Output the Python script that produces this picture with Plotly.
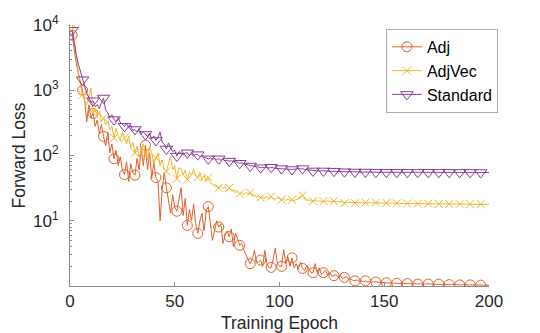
import plotly.graph_objects as go

# epochs 1..200
epochs = list(range(1, 201))

adj = [
    7000, 4000, 2600, 1800, 1300, 1000, 700, 330, 600, 380,
    440, 280, 350, 220, 300, 196, 140, 230, 110, 150,
    89, 120, 70, 95, 60, 51, 80, 40, 75, 55,
    50, 90, 60, 130, 70, 144, 60, 110, 45, 80,
    46, 40, 10, 30, 55, 32, 20, 13, 25, 16,
    14, 20, 32, 12, 22, 8.5, 15, 10, 18, 9,
    6.4, 10, 13, 7, 14, 16.5, 9, 5, 7, 10,
    8, 9, 4.5, 6, 7, 5.7, 7.5, 4, 6.5, 5,
    4.2, 4.5, 3.5, 3, 2.5, 2.2, 2.6, 3.5, 2.4, 2.3,
    2.5, 2.0, 3.5, 2.2, 1.9, 1.93, 2.6, 3.8, 2.2, 2.0,
    2.0, 3.6, 2.2, 2.8, 2.0, 2.7, 1.9, 2.2, 1.8, 2.3,
    1.86, 1.7, 2.1, 1.8, 1.6, 1.6, 2.2, 1.6, 1.9, 1.5,
    1.6, 1.75, 1.45, 1.6, 1.4, 1.44, 1.5, 1.35, 1.45, 1.3,
    1.35, 1.4, 1.25, 1.3, 1.22, 1.2, 1.25, 1.18, 1.2, 1.16,
    1.2, 1.15, 1.17, 1.14, 1.16, 1.15, 1.13, 1.14, 1.12, 1.13,
    1.12, 1.11, 1.12, 1.10, 1.11, 1.10, 1.11, 1.09, 1.10, 1.09,
    1.09, 1.08, 1.09, 1.08, 1.08, 1.07, 1.08, 1.07, 1.07, 1.08,
    1.07, 1.06, 1.07, 1.06, 1.06, 1.07, 1.06, 1.06, 1.05, 1.06,
    1.05, 1.06, 1.05, 1.05, 1.05, 1.04, 1.05, 1.04, 1.05, 1.04,
    1.04, 1.04, 1.04, 1.03, 1.04, 1.03, 1.04, 1.03, 1.03, 1.03,
]

adjvec = [
    10500, 5500, 3000, 1900, 1200, 850, 700, 600, 800, 1080,
    450, 520, 400, 480, 330, 375, 300, 340, 250, 280,
    186, 260, 200, 170, 230, 186, 150, 200, 130, 160,
    110, 140, 95, 120, 150, 105, 85, 130, 110, 75,
    92, 110, 70, 85, 60, 57, 75, 98, 60, 70,
    44, 65, 62, 50, 60, 43, 55, 50, 62, 48,
    46, 55, 42, 50, 40, 46, 38, 36, 34, 33,
    32, 35, 31, 33, 30, 32, 29, 30, 27, 28,
    26, 27, 25, 27, 26, 27, 24, 25, 23, 24,
    22.6, 23, 22, 23.5, 22, 23.5, 22, 21.5, 22.5, 21.5,
    21, 22, 20.5, 21.5, 20.5, 21, 20.5, 21, 22, 23,
    24.5, 21.5, 20.5, 21, 20, 20, 20.5, 19.8, 20.2, 19.8,
    20, 19.7, 20.1, 19.6, 19.9, 20, 19.5, 19.7, 19.3, 19.5,
    18.6, 19.2, 19, 19.3, 18.9, 18.7, 19.1, 18.8, 19, 18.8,
    19, 18.8, 19, 18.9, 18.7, 19, 18.8, 18.7, 18.8, 18.6,
    18.7, 18.6, 18.7, 18.5, 18.6, 18.5, 18.6, 18.4, 18.5, 18.5,
    18.4, 18.5, 18.4, 18.3, 18.4, 18.3, 18.4, 18.3, 18.2, 18.3,
    18.3, 18.2, 18.3, 18.2, 18.2, 18.1, 18.2, 18.1, 18.2, 18.1,
    18.1, 18.0, 18.1, 18.0, 18.1, 18.0, 18.0, 17.9, 18.0, 17.9,
    18.0, 17.9, 17.9, 17.9, 17.8, 17.9, 17.8, 17.8, 17.9, 17.8,
]

standard = [
    8300, 5000, 3500, 2500, 1900, 1450, 1100, 900, 780, 650,
    690, 560, 600, 520, 650, 760, 500, 450, 380, 420,
    355, 330, 380, 320, 300, 280, 310, 270, 290, 240,
    250, 230, 260, 215, 230, 210, 195, 220, 180, 200,
    170, 190, 230, 160, 150, 126, 156, 130, 115, 120,
    98, 115, 108, 102, 110, 110, 100, 106, 98, 104,
    103, 96, 100, 94, 92, 89, 92, 88, 90, 87,
    89, 85, 87, 83, 85, 82, 83, 80, 81, 78,
    76, 77, 74, 73, 72, 69, 70, 68, 68, 66,
    65, 66, 65, 66, 64, 66, 64, 63.5, 63, 63,
    63, 62.5, 62, 62.5, 61.5, 61, 62, 62.5, 63, 62,
    63, 61, 60.5, 60, 59.5, 58, 59, 58.5, 58, 58.5,
    58, 57.5, 58, 57.5, 57, 57.5, 57, 56.5, 57, 56.5,
    56.5, 56, 56.5, 56, 56, 55.8, 56, 55.7, 56, 55.6,
    55.8, 55.6, 55.7, 55.5, 55.6, 55.5, 55.6, 55.4, 55.5, 55.4,
    55.5, 55.4, 55.5, 55.4, 55.4, 55.3, 55.4, 55.3, 55.4, 55.3,
    55.3, 55.4, 55.3, 55.2, 55.3, 55.2, 55.3, 55.2, 55.3, 55.2,
    55.2, 55.3, 55.2, 55.2, 55.1, 55.2, 55.1, 55.2, 55.1, 55.1,
    55.2, 55.1, 55.1, 55.0, 55.1, 55.0, 55.1, 55.0, 55.1, 55.0,
    55.0, 55.1, 55.0, 55.0, 54.9, 55.0, 55.0, 54.9, 55.0, 54.9,
]

series = [
    ("Adj", adj, "#E0602A", "circle-open", 10),
    ("AdjVec", adjvec, "#F0B62A", "x-thin-open", 8),
    ("Standard", standard, "#8A3D9A", "triangle-down-open", 11),
]

FONT = "Liberation Sans, Arial, Helvetica, sans-serif"

fig = go.Figure()
for name, vals, color, sym, size in series:
    # full line
    fig.add_trace(go.Scatter(
        x=epochs, y=vals, mode="lines", showlegend=False,
        line=dict(color=color, width=1), hoverinfo="skip"))
    # marker every 5 epochs
    fig.add_trace(go.Scatter(
        x=epochs[::5], y=vals[::5], mode="markers", showlegend=False,
        marker=dict(symbol=sym, size=size, color=color,
                    line=dict(color=color, width=1))))
    # legend entry only
    fig.add_trace(go.Scatter(
        x=[None], y=[None], mode="lines+markers", name=name,
        line=dict(color=color, width=1),
        marker=dict(symbol=sym, size=size, color=color,
                    line=dict(color=color, width=1))))

ytick_vals = [1e1, 1e2, 1e3, 1e4]
ytick_text = ["10<sup>1</sup>", "10<sup>2</sup>", "10<sup>3</sup>", "10<sup>4</sup>"]
minor_vals = [m * 10 ** k for k in range(0, 4) for m in range(2, 10)]

fig.update_xaxes(
    range=[0, 200], tickvals=[0, 50, 100, 150, 200],
    ticks="inside", ticklen=4, tickcolor="#888",
    showline=True, linecolor="#888", linewidth=1,
    showgrid=False, zeroline=False, automargin=False,
    tickfont=dict(size=17, color="#262626"),
    title=dict(text="Training Epoch", font=dict(size=17.5, color="#262626"), standoff=6),
)
fig.update_yaxes(
    type="log", range=[0, 4],
    tickmode="array", tickvals=ytick_vals, ticktext=ytick_text,
    ticks="inside", ticklen=4, tickcolor="#888",
    minor=dict(tickvals=minor_vals, ticks="inside", ticklen=2, tickcolor="#888"),
    showline=True, linecolor="#888", linewidth=1,
    showgrid=False, zeroline=False, automargin=False,
    tickfont=dict(size=17, color="#262626"),
    ticklabelstandoff=7,
    title=dict(text="Forward Loss", font=dict(size=17.5, color="#262626"), standoff=2),
)

# page has an 8px body margin, so margins are shifted to compensate
fig.update_layout(
    width=540, height=333,
    margin=dict(l=62, r=59, t=17, b=55),
    plot_bgcolor="white", paper_bgcolor="white",
    font=dict(family=FONT, color="#262626"),
    legend=dict(
        x=0.754, y=0.985, xanchor="left", yanchor="top",
        bgcolor="white", bordercolor="#aaa", borderwidth=1,
        font=dict(size=16, color="#000"), itemwidth=30,
        tracegroupgap=0, itemclick=False,
    ),
)

fig.write_html("out.html")
